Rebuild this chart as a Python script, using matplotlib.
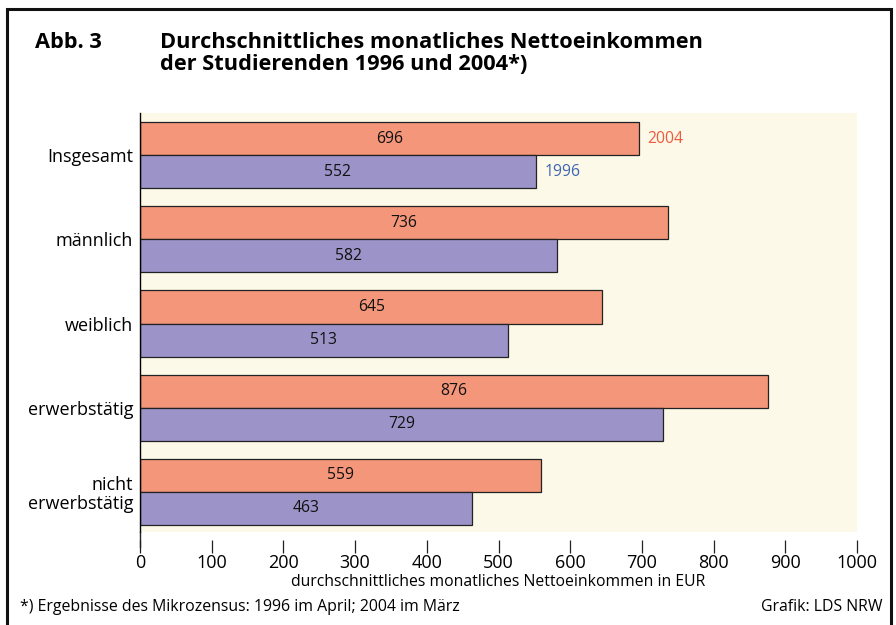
import matplotlib.pyplot as plt
from matplotlib.patches import Rectangle
import numpy as np

categories = ["Insgesamt", "männlich", "weiblich", "erwerbstätig", "nicht\nerwerbstätig"]
values_2004 = [696, 736, 645, 876, 559]
values_1996 = [552, 582, 513, 729, 463]
series_names = ["2004", "1996"]
xticks = [0, 100, 200, 300, 400, 500, 600, 700, 800, 900, 1000]

col_2004 = "#F4967A"
col_1996 = "#9C94C8"
txt_2004 = "#EE5A3E"
txt_1996 = "#3F66B3"
bg = "#FCF9E8"

plt.rcParams['font.family'] = ['Open Sans', 'DejaVu Sans']

fig = plt.figure(figsize=(8.96, 6.25), dpi=100)
ax = fig.add_axes([140 / 896, 1 - 532 / 625, 717 / 896, 419 / 625])
ax.set_facecolor(bg)

# move the bottom axis first (this resets the ticks)
for s in ["top", "right"]:
    ax.spines[s].set_visible(False)
ax.spines["bottom"].set_position(("outward", 6))
ax.spines["bottom"].set_visible(False)

y = np.arange(len(categories))
h = 0.393
ax.barh(y - h / 2, values_2004, height=h, color=col_2004, edgecolor="#222222", linewidth=0.9, zorder=2)
ax.barh(y + h / 2, values_1996, height=h, color=col_1996, edgecolor="#222222", linewidth=0.9, zorder=2)

for yi, v in zip(y, values_2004):
    ax.text(v / 2, yi - h / 2, str(v), ha="center", va="center", fontsize=11.3, color="#111111", zorder=3)
for yi, v in zip(y, values_1996):
    ax.text(v / 2, yi + h / 2, str(v), ha="center", va="center", fontsize=11.3, color="#111111", zorder=3)

# series labels next to the first group
ax.text(values_2004[0] + 12, y[0] - h / 2, series_names[0], ha="left", va="center", fontsize=11.3, color=txt_2004)
ax.text(values_1996[0] + 12, y[0] + h / 2, series_names[1], ha="left", va="center", fontsize=11.3, color=txt_1996)

ax.set_xlim(0, 1000)
ax.set_ylim(4.476, -0.5)
ax.set_xticks(xticks)
ax.set_xticklabels([str(t) for t in xticks], fontsize=13)
ax.set_yticks(y)
ax.set_yticklabels(categories, fontsize=13, linespacing=1.1)
ax.tick_params(axis="y", length=0, pad=5)
ax.tick_params(axis="x", length=9, width=0.9, color="#222222", pad=0.5, labelsize=13)
ax.spines["left"].set_bounds(4.476, -0.5)
ax.spines["left"].set_linewidth(1.0)
ax.plot([0, 0], [4.476, 4.476 + 15 / 84], color="#222222", lw=1.0, clip_on=False, zorder=3)
ax.set_xlabel("durchschnittliches monatliches Nettoeinkommen in EUR", fontsize=11.3, labelpad=2)

# title and notes
fig.text(35 / 896, 1 - 42 / 625, "Abb. 3", fontsize=15.7, fontweight="bold", va="center", ha="left")
fig.text(160 / 896, 1 - 42 / 625, "Durchschnittliches monatliches Nettoeinkommen", fontsize=15.7,
         fontweight="bold", va="center", ha="left")
fig.text(160 / 896, 1 - 65 / 625, "der Studierenden 1996 und 2004*)", fontsize=15.7,
         fontweight="bold", va="center", ha="left")
fig.text(20 / 896, 1 - 607 / 625, "*) Ergebnisse des Mikrozensus: 1996 im April; 2004 im März",
         fontsize=11.4, va="center", ha="left")
fig.text(882 / 896, 1 - 607 / 625, "Grafik: LDS NRW", fontsize=11.4, va="center", ha="right")

# outer frame
fig.patches.append(Rectangle((7 / 896, -0.05), 884 / 896, 1.05 - 9 / 625, transform=fig.transFigure,
                             fill=False, edgecolor="#111111", linewidth=2.2))

fig.savefig("out.png", dpi=100)
